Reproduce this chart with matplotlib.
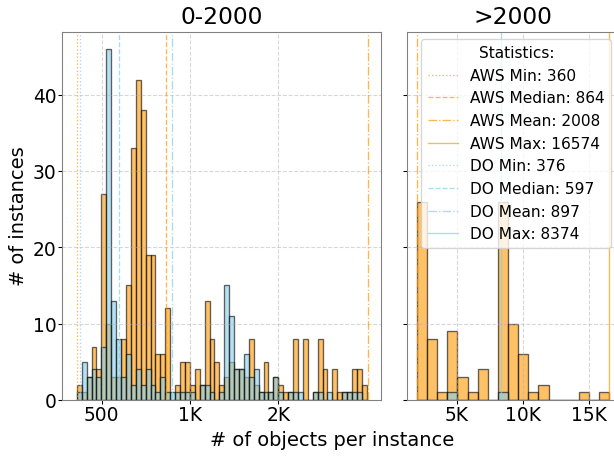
import numpy as np
import matplotlib.pyplot as plt
from matplotlib.ticker import FixedLocator, FuncFormatter

# bin edges of the two panels
low_edges = np.linspace(360, 2000, 60)
high_edges = np.linspace(2000, 16574, 20)

# counts per bin, 0-2000 panel
aws_low = [2, 1, 3, 7, 4, 27, 10, 3, 3, 8, 15, 33, 42, 38, 19, 19, 6, 6, 12, 0,
           2, 5, 5, 2, 4, 2, 13, 8, 5, 2, 3, 5, 4, 4, 3, 8, 2, 1, 5, 1,
           3, 2, 1, 1, 8, 0, 8, 0, 1, 8, 4, 0, 4, 1, 1, 1, 4, 4, 2]
do_low = [1, 5, 3, 4, 3, 7, 46, 13, 8, 3, 6, 2, 4, 2, 4, 2, 1, 3, 1, 1,
          1, 1, 1, 1, 0, 2, 2, 1, 0, 1, 15, 11, 4, 4, 6, 3, 4, 1, 1, 1,
          3, 1, 0, 1, 1, 1, 0, 0, 1, 1, 0, 1, 0, 0, 1, 1, 1, 1, 0]

# counts per bin, >2000 panel
aws_high = [26, 8, 1, 9, 3, 1, 4, 0, 26, 10, 6, 1, 2, 0, 0, 0, 1, 0, 1]
do_high = [0, 0, 0, 1, 0, 0, 0, 0, 1, 0, 0, 0, 0, 0, 0, 0, 0, 0, 0]

stat_names = ['Min', 'Median', 'Mean', 'Max']
stat_styles = [':', '--', '-.', '-']
aws_stats = [360, 864, 2008, 16574]
do_stats = [376, 597, 897, 8374]

aws_color = '#FF9900'
do_color = '#87CEEB'

fig = plt.figure(figsize=(6.4, 4.8), dpi=96)
ax1 = fig.add_axes([62.3 / 614.4, 60.1 / 460.8, 319 / 614.4, 368.4 / 460.8])
ax2 = fig.add_axes([407.3 / 614.4, 60.1 / 460.8, 211.6 / 614.4, 368.4 / 460.8], sharey=ax1)

for ax, edges, aws, do in [(ax1, low_edges, aws_low, do_low),
                           (ax2, high_edges, aws_high, do_high)]:
    centers = (edges[:-1] + edges[1:]) / 2
    ax.hist(centers, bins=edges, weights=aws, color=aws_color, alpha=0.6,
            edgecolor='black')
    ax.hist(centers, bins=edges, weights=do, color=do_color, alpha=0.6,
            edgecolor='black')
    ax.grid(True, linestyle='--', alpha=0.5)
    for s in ax.spines.values():
        s.set_color('gray')

handles = []
for prov, vals, col in [('AWS', aws_stats, aws_color), ('DO', do_stats, do_color)]:
    for name, v, ls in zip(stat_names, vals, stat_styles):
        label = f'{prov} {name}: {v}'
        h = None
        if v <= 2010:
            h = ax1.axvline(v, color=col, linestyle=ls, linewidth=1, alpha=0.7, label=label)
        if v >= 2000:
            h = ax2.axvline(v, color=col, linestyle=ls, linewidth=1, alpha=0.7, label=label)
        handles.append(h)


def kfmt(x, pos):
    return f'{x / 1000:.0f}K' if x >= 1000 else f'{x:.0f}'


ax1.xaxis.set_major_locator(FixedLocator([500, 1000, 1500]))
ax1.xaxis.set_major_formatter(FuncFormatter(kfmt))
ax2.xaxis.set_major_locator(FixedLocator([5000, 10000, 15000]))
ax2.xaxis.set_major_formatter(FuncFormatter(kfmt))
ax1.set_yticks([0, 10, 20, 30, 40])
ax1.tick_params(labelsize=14, length=2.7, pad=1.5)
ax2.tick_params(labelsize=14, length=2.7, pad=1.5, labelleft=False)

ax1.set_title('0-2000', fontsize=17.5)
ax2.set_title('>2000', fontsize=17.5)
ax1.set_ylabel('# of instances', fontsize=14.5)
fig.text(332 / 614.4, 1 - 441 / 460.8, '# of objects per instance',
         ha='center', va='center', fontsize=14.5)

ax2.legend(handles=handles, title='Statistics:', loc='upper right',
           fontsize=11.5, title_fontsize=11.5, labelspacing=0.5)

fig.savefig('out.png', dpi=96)
